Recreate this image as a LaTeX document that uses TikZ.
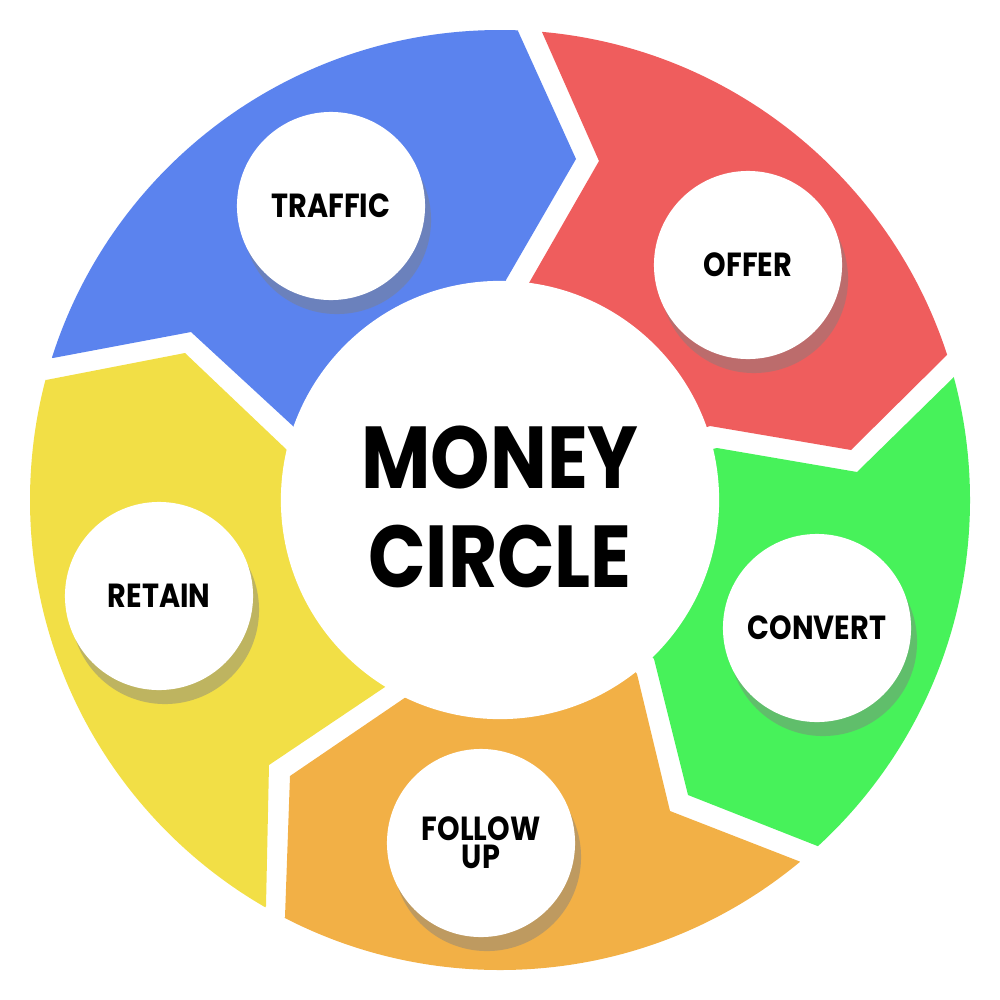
\documentclass[tikz,border=0pt]{standalone}
\usepackage{fontspec}
\setmainfont{Poppins}[FakeStretch=0.86,UprightFont=* Bold]
\usetikzlibrary{calc,shadows}
\definecolor{cblue}{HTML}{5B83EE}
\definecolor{cred}{HTML}{EF5D5D}
\definecolor{cgreen}{HTML}{47F25A}
\definecolor{corange}{HTML}{F2B046}
\definecolor{cyellow}{HTML}{F2DF46}
\tikzset{
  bub/.style={circle,fill=white,minimum size=1.88cm,inner sep=0pt,align=center,
    font=\fontsize{9.5}{10}\selectfont,
    drop shadow={opacity=0.45,shadow xshift=0.6mm,shadow yshift=-1.4mm}},
}
\newcommand{\seg}[7]{% color, ib, notch, ob, of, tip, if
  \begin{scope}
  \clip (C) circle (470);
  \fill[#1] (C) -- #2 -- #3 -- #4 -- ($(C)!2!#4$) -- ($(C)!3!($#4!0.5!#5$)$) -- ($(C)!2!#5$) -- #5 -- #6 -- #7 -- cycle;
  \end{scope}}
\begin{document}
\begin{tikzpicture}[x=0.01cm,y=-0.01cm]
\useasboundingbox (0,0) rectangle (1000,1000);
\coordinate (C) at (500,500);
\seg{cblue}{(294,427)}{(191,332)}{(53,358)}{(518,31)}{(576,159)}{(506,280)}
\seg{cred}{(529,283)}{(599,161)}{(542,32)}{(950,352)}{(851,450)}{(710,426)}
\seg{cgreen}{(717,448)}{(857,472)}{(956,375)}{(820,847)}{(688,795)}{(654,659)}
\seg{corange}{(637,674)}{(670,811)}{(801,862)}{(285,917)}{(290,776)}{(406,697)}
\seg{cyellow}{(385,687)}{(269,765)}{(266,906)}{(46,380)}{(185,353)}{(287,450)}
\node[circle,fill=white,minimum size=4.38cm,inner sep=0pt] (mid) at (C) {};
\node[font=\fontsize{25}{28}\selectfont,align=center] (title) at (500,507) {MONEY\\CIRCLE};
\node[bub] (traffic) at (331,206) {TRAFFIC};
\node[bub] (offer) at (748,265) {OFFER};
\node[bub] (convert) at (817,628) {CONVERT};
\node[bub] (follow) at (481,843) {FOLLOW\\[-2pt]UP};
\node[bub] (retain) at (159,596) {RETAIN};
\end{tikzpicture}
\end{document}
